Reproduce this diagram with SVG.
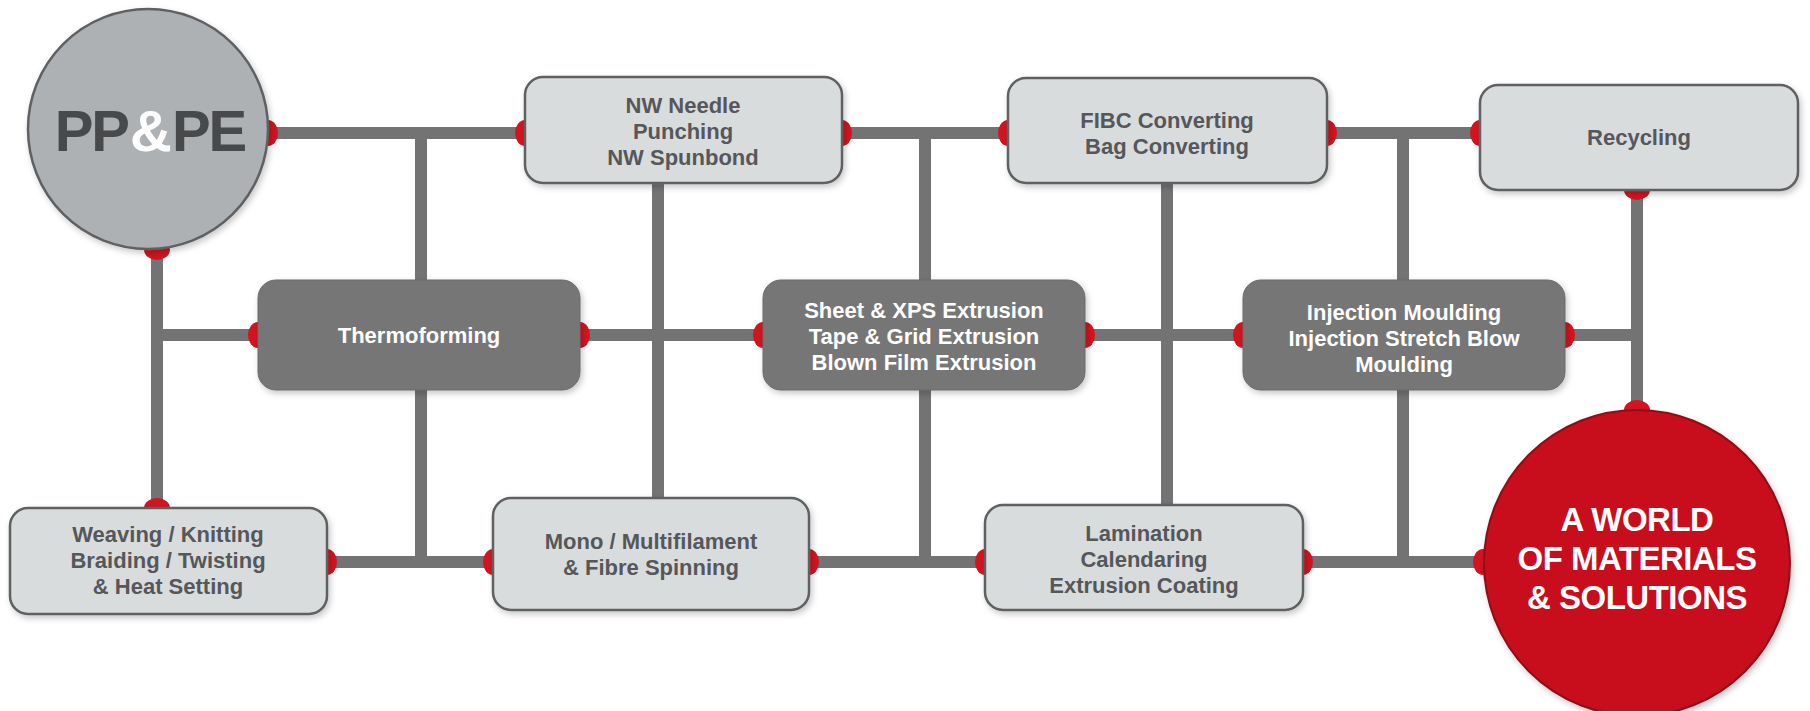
<svg xmlns="http://www.w3.org/2000/svg" width="1810" height="711" viewBox="0 0 1810 711">
<defs>
<filter id="sh" x="-10%" y="-10%" width="125%" height="130%">
<feDropShadow dx="2" dy="3" stdDeviation="3" flood-color="#000" flood-opacity="0.22"/>
</filter>
<style>
.line{stroke:#737373;stroke-width:12;fill:none;stroke-linecap:butt}
.dot{fill:#d3141f}
.light{fill:#d9dcdd;stroke:#5e6062;stroke-width:2.5}
.dark{fill:#767676;stroke:#6a6a6a;stroke-width:1}
.lt{font-family:"Liberation Sans",Arial,sans-serif;font-weight:700;font-size:22px;fill:#55575a;text-anchor:middle}
.dt{font-family:"Liberation Sans",Arial,sans-serif;font-weight:700;font-size:22px;fill:#ffffff;text-anchor:middle}
.big{font-family:"Liberation Sans",Arial,sans-serif;font-weight:700;text-anchor:middle}
</style>
</defs>
<rect width="1810" height="711" fill="#ffffff"/>
<g id="connectors">
<line class="line" x1="260" y1="133" x2="530" y2="133"/>
<line class="line" x1="838" y1="133" x2="1012" y2="133"/>
<line class="line" x1="1322" y1="133" x2="1485" y2="133"/>
<line class="line" x1="421" y1="127" x2="421" y2="568"/>
<line class="line" x1="925" y1="127" x2="925" y2="568"/>
<line class="line" x1="1403" y1="127" x2="1403" y2="568"/>
<line class="line" x1="658" y1="180" x2="658" y2="502"/>
<line class="line" x1="1167" y1="180" x2="1167" y2="508"/>
<line class="line" x1="1637" y1="186" x2="1637" y2="415"/>
<line class="line" x1="157" y1="245" x2="157" y2="512"/>
<line class="line" x1="151" y1="335" x2="262" y2="335"/>
<line class="line" x1="576" y1="335" x2="767" y2="335"/>
<line class="line" x1="1081" y1="335" x2="1247" y2="335"/>
<line class="line" x1="1561" y1="335" x2="1643" y2="335"/>
<line class="line" x1="323" y1="562" x2="497" y2="562"/>
<line class="line" x1="805" y1="562" x2="989" y2="562"/>
<line class="line" x1="1299" y1="562" x2="1486" y2="562"/>
</g>
<g id="node-ppe">
<ellipse class="dot" cx="268" cy="133" rx="10" ry="13"/>
<ellipse class="dot" cx="157" cy="250" rx="13" ry="10"/>
<circle cx="148" cy="129" r="120" fill="#aeb1b4" stroke="#5e6062" stroke-width="2.5" filter="url(#sh)"/>
<text class="big" x="150" y="151" font-size="58" letter-spacing="-2"><tspan fill="#48494b">PP</tspan><tspan fill="#ffffff" dx="2">&amp;</tspan><tspan fill="#48494b" dx="2">PE</tspan></text>
</g>
<g id="node-nw">
<ellipse class="dot" cx="525" cy="133" rx="10" ry="13"/>
<ellipse class="dot" cx="842" cy="133" rx="10" ry="13"/>
<rect class="light" x="525" y="77" width="317" height="106" rx="18" filter="url(#sh)"/>
<text class="lt" x="683" y="113">NW Needle</text>
<text class="lt" x="683" y="139">Punching</text>
<text class="lt" x="683" y="165">NW Spunbond</text>
</g>
<g id="node-fibc">
<ellipse class="dot" cx="1008" cy="133" rx="10" ry="13"/>
<ellipse class="dot" cx="1327" cy="133" rx="10" ry="13"/>
<rect class="light" x="1008" y="78" width="319" height="105" rx="18" filter="url(#sh)"/>
<text class="lt" x="1167" y="128">FIBC Converting</text>
<text class="lt" x="1167" y="154">Bag Converting</text>
</g>
<g id="node-recycling">
<ellipse class="dot" cx="1480" cy="133" rx="10" ry="13"/>
<ellipse class="dot" cx="1637" cy="190" rx="13" ry="10"/>
<rect class="light" x="1480" y="85" width="318" height="105" rx="18" filter="url(#sh)"/>
<text class="lt" x="1639" y="145">Recycling</text>
</g>
<g id="node-thermo">
<ellipse class="dot" cx="258" cy="335" rx="10" ry="13"/>
<ellipse class="dot" cx="580" cy="335" rx="10" ry="13"/>
<rect class="dark" x="258" y="280" width="322" height="110" rx="18" filter="url(#sh)"/>
<text class="dt" x="419" y="343">Thermoforming</text>
</g>
<g id="node-sheet">
<ellipse class="dot" cx="763" cy="335" rx="10" ry="13"/>
<ellipse class="dot" cx="1085" cy="335" rx="10" ry="13"/>
<rect class="dark" x="763" y="280" width="322" height="110" rx="18" filter="url(#sh)"/>
<text class="dt" x="924" y="318">Sheet &amp; XPS Extrusion</text>
<text class="dt" x="924" y="344">Tape &amp; Grid Extrusion</text>
<text class="dt" x="924" y="370">Blown Film Extrusion</text>
</g>
<g id="node-injection">
<ellipse class="dot" cx="1243" cy="335" rx="10" ry="13"/>
<ellipse class="dot" cx="1565" cy="335" rx="10" ry="13"/>
<rect class="dark" x="1243" y="280" width="322" height="110" rx="18" filter="url(#sh)"/>
<text class="dt" x="1404" y="320">Injection Moulding</text>
<text class="dt" x="1404" y="346">Injection Stretch Blow</text>
<text class="dt" x="1404" y="372">Moulding</text>
</g>
<g id="node-weaving">
<ellipse class="dot" cx="157" cy="508" rx="13" ry="10"/>
<ellipse class="dot" cx="327" cy="562" rx="10" ry="13"/>
<rect class="light" x="10" y="508" width="317" height="106" rx="18" filter="url(#sh)"/>
<text class="lt" x="168" y="542">Weaving / Knitting</text>
<text class="lt" x="168" y="568">Braiding / Twisting</text>
<text class="lt" x="168" y="594">&amp; Heat Setting</text>
</g>
<g id="node-mono">
<ellipse class="dot" cx="493" cy="562" rx="10" ry="13"/>
<ellipse class="dot" cx="809" cy="562" rx="10" ry="13"/>
<rect class="light" x="493" y="498" width="316" height="112" rx="18" filter="url(#sh)"/>
<text class="lt" x="651" y="549">Mono / Multifilament</text>
<text class="lt" x="651" y="575">&amp; Fibre Spinning</text>
</g>
<g id="node-lamination">
<ellipse class="dot" cx="985" cy="562" rx="10" ry="13"/>
<ellipse class="dot" cx="1303" cy="562" rx="10" ry="13"/>
<rect class="light" x="985" y="505" width="318" height="105" rx="18" filter="url(#sh)"/>
<text class="lt" x="1144" y="541">Lamination</text>
<text class="lt" x="1144" y="567">Calendaring</text>
<text class="lt" x="1144" y="593">Extrusion Coating</text>
</g>
<g id="node-world">
<ellipse class="dot" cx="1637" cy="410" rx="13" ry="10"/>
<ellipse class="dot" cx="1483" cy="562" rx="10" ry="13"/>
<circle cx="1637" cy="563" r="153" fill="#c8111d" stroke="#8e1017" stroke-width="2" filter="url(#sh)"/>
<text class="big" x="1637" y="531" font-size="33" fill="#ffffff" letter-spacing="-0.5">A WORLD</text>
<text class="big" x="1637" y="570" font-size="33" fill="#ffffff" letter-spacing="-0.5">OF MATERIALS</text>
<text class="big" x="1637" y="609" font-size="33" fill="#ffffff" letter-spacing="-0.5">&amp; SOLUTIONS</text>
</g>
</svg>
